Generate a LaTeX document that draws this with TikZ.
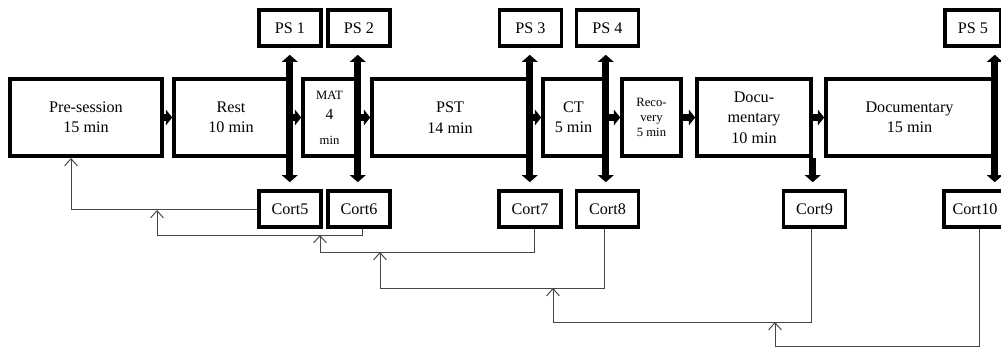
\documentclass[tikz,border=0pt]{standalone}
\usepackage{fontspec}
\setmainfont{Liberation Serif}
\usetikzlibrary{arrows.meta}

\begin{document}
\begin{tikzpicture}[x=0.025cm, y=-0.025cm,
  every node/.style={font=\fontsize{11.5}{14.5}\selectfont},
  phase/.style={draw, line width=2.5pt, minimum height=1.925cm, align=center, inner sep=1pt},
  probe/.style={draw, line width=2.5pt, minimum height=0.9cm, minimum width=1.55cm, inner sep=1pt},
  flow/.style={line width=5pt, -{Triangle[length=4.5pt, width=11pt]}},
  sample/.style={line width=4.8pt, {Triangle[length=5pt, width=11pt]}-{Triangle[length=5pt, width=11pt]}, shorten <=5pt, shorten >=5pt},
  drop/.style={line width=4.8pt, -{Triangle[length=5pt, width=11pt]}, shorten >=5pt},
  back/.style={gray!55!black, line width=0.7pt, -{Straight Barb[length=5pt, width=9pt]}}]
  \useasboundingbox (0,0) rectangle (1001,347);
  % session phases
  \node[phase, minimum width=3.8cm] (pre) at (86,117.5) {Pre-session\\15 min};
  \node[phase, minimum width=2.85cm] (rest) at (231,117.5) {Rest\\10 min};
  \node[phase, minimum width=1.325cm] (mat) at (329.5,117.5)
    {\fontsize{9}{10}\selectfont MAT\\\fontsize{11}{12}\selectfont 4\\[3pt]\fontsize{9}{10}\selectfont min};
  \node[phase, minimum width=3.9cm] (pst) at (450,117.5) {PST\\14 min};
  \node[phase, minimum width=1.525cm] (ct) at (573.5,117.5) {CT\\5 min};
  \node[phase, minimum width=1.475cm, font=\fontsize{9}{10.5}\selectfont] (reco) at (651.5,117.5) {Reco-\\very\\5 min};
  \node[phase, minimum width=2.85cm] (doca) at (754,117.5) {Docu-\\mentary\\10 min};
  \node[phase, minimum width=4.175cm] (docb) at (909.5,117.5) {Documentary\\15 min};
  % sampling points
  \node[probe] (ps1) at (290,28) {PS 1};
  \node[probe] (ps2) at (359,28) {PS 2};
  \node[probe] (ps3) at (530.5,28) {PS 3};
  \node[probe] (ps4) at (607.5,28) {PS 4};
  \node[probe, minimum width=1.4cm] (ps5) at (973,28) {PS 5};
  \node[probe] (cort5) at (290,209) {Cort5};
  \node[probe] (cort6) at (359,209) {Cort6};
  \node[probe] (cort7) at (530,209) {Cort7};
  \node[probe] (cort8) at (607.5,209) {Cort8};
  \node[probe] (cort9) at (814.5,209) {Cort9};
  \node[probe] (cort10) at (975,209) {Cort10};
  % flow between phases
  \draw[flow] (pre.east) -- (rest.west);
  \draw[flow] (rest.east) -- (mat.west);
  \draw[flow] (mat.east) -- (pst.west);
  \draw[flow] (pst.east) -- (ct.west);
  \draw[flow] (ct.east) -- (reco.west);
  \draw[flow] (reco.east) -- (doca.west);
  \draw[flow] (doca.east) -- (docb.west);
  % samples taken
  \draw[sample] (ps1.south -| rest.east) -- (cort5.north -| rest.east);
  \draw[sample] (ps2.south -| mat.east) -- (cort6.north -| mat.east);
  \draw[sample] (ps3.south -| pst.east) -- (cort7.north -| pst.east);
  \draw[sample] (ps4.south -| ct.east) -- (cort8.north -| ct.east);
  \draw[drop] (doca.south east) -- (cort9.north -| doca.east);
  \draw[sample] (ps5.south -| docb.east) -- (cort10.north -| docb.east);
  % cortisol links
  \coordinate (r1) at (71,158);
  \coordinate (r2) at (157,210);
  \coordinate (r3) at (320,235);
  \coordinate (r4) at (380,252);
  \coordinate (r5) at (553,288);
  \coordinate (r6) at (775,322);
  \draw[back] (cort5.west) -| (r1);
  \draw[back] ([xshift=0.075cm]cort6.south) -- ++(0,7) -| (r2);
  \draw[back] ([xshift=0.1cm]cort7.south) -- ++(0,24) -| (r3);
  \draw[back] ([xshift=-0.075cm]cort8.south) -- ++(0,60) -| (r4);
  \draw[back] ([xshift=-0.075cm]cort9.south) -- ++(0,94) -| (r5);
  \draw[back] ([xshift=0.1cm]cort10.south) -- ++(0,118) -| (r6);
\end{tikzpicture}
\end{document}
